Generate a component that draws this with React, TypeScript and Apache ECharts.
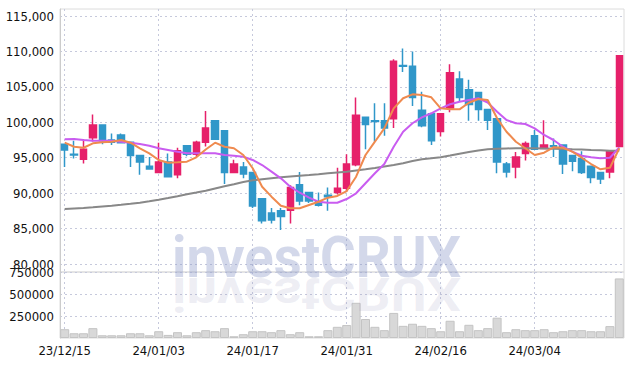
import React, { useEffect, useRef } from "react";
import * as echarts from "echarts";

const dates = [
  "23/12/15","23/12/18","23/12/19","23/12/20","23/12/21","23/12/22","23/12/26","23/12/27","23/12/28","24/01/02",
  "24/01/03","24/01/04","24/01/05","24/01/08","24/01/09","24/01/10","24/01/11","24/01/12","24/01/15","24/01/16",
  "24/01/17","24/01/18","24/01/19","24/01/22","24/01/23","24/01/24","24/01/25","24/01/26","24/01/29","24/01/30",
  "24/01/31","24/02/01","24/02/02","24/02/05","24/02/06","24/02/07","24/02/08","24/02/13","24/02/14","24/02/15",
  "24/02/16","24/02/19","24/02/20","24/02/21","24/02/22","24/02/23","24/02/26","24/02/27","24/02/28","24/02/29",
  "24/03/04","24/03/05","24/03/06","24/03/07","24/03/08","24/03/11","24/03/12","24/03/13","24/03/14","24/03/15",
];

// [open, close, low, high]
const ohlc = [
  [96900,96100,93700,96900],[95500,95400,94900,97400],[94800,96200,94200,97600],[97800,99600,97300,101100],
  [99600,97400,96900,99600],[97500,97200,96800,98400],[98200,97100,97100,98400],[97200,95300,93700,97200],
  [95300,94400,92600,95300],[93800,93400,93300,95100],[92900,94400,92800,97100],[94400,92300,92300,95600],
  [92600,96000,92100,96400],[96700,95500,95200,96700],[95500,97200,95100,97400],[97200,99200,96600,101600],
  [100200,97600,97600,100300],[98800,92900,91300,98800],[92900,94100,92900,94700],[93700,92700,92100,94400],
  [92900,88200,87900,92900],[89200,86100,85700,89300],[87200,86200,85700,87900],[87500,86700,84800,87900],
  [87600,90800,85700,91100],[91200,88900,88300,93000],[90100,88900,88600,90200],[88800,88300,88100,90100],
  [89700,89500,87500,90800],[90100,90700,89800,93600],[90700,94100,90200,95500],[94000,101000,93800,103500],
  [100700,99700,96200,100700],[100200,100100,97300,102700],[100200,99200,98100,102700],[100500,108600,99200,108900],
  [108000,107900,107100,110400],[107900,103500,102300,110000],[101700,99500,99300,104300],[101200,97400,96800,101200],
  [98700,101200,98000,101200],[102000,107000,101400,108200],[106100,103500,102900,107200],[104600,102500,100200,106000],
  [104200,101800,100200,104300],[101800,100300,98900,101800],[100500,94400,92800,100500],[94100,93000,92200,94400],
  [93700,95100,92100,95800],[95600,97000,94600,97300],[98100,96200,96200,98900],[96300,96800,96300,100300],
  [96700,96600,95100,97700],[96800,94100,92700,96800],[95300,94500,93100,95300],[94900,92900,92700,95900],
  [93800,92200,91400,93800],[92900,92000,91300,92900],[93000,96000,92100,96100],[96600,109400,96600,109400],
];

const ma5 = [
  97120,96550,96410,97030,97180,97260,97500,97120,96330,95620,
  94680,94300,94350,94440,95060,96160,97120,96550,96330,95380,
  93510,90910,89500,88230,87860,87860,88330,88790,89360,89600,
  90300,92320,95380,97260,99150,101970,103390,103950,103850,103530,
  101970,101830,101830,102760,103290,103150,100560,98670,97260,96330,
  95380,95710,96470,96410,95850,95000,94110,93360,93590,96330,
];

const ma10 = [
  97600,97640,97500,97400,97400,97400,97260,97120,96940,96700,
  96330,96090,95850,95620,95620,95620,95620,95380,95280,95140,
  94680,93970,93030,92090,90910,90060,89360,88790,88650,88650,
  89170,89980,91390,92800,94110,96550,98670,99860,100700,101270,
  101970,102540,102910,103150,103390,102790,101490,100320,99860,99760,
  99150,98210,97500,96550,95850,95280,95060,94920,94990,96470,
];

const maLong = [
  87760,87830,87900,88000,88115,88230,88355,88500,88650,88850,
  89075,89315,89570,89840,90090,90345,90655,90965,91260,91570,
  91810,91970,92110,92235,92350,92460,92560,92675,92800,92915,
  93025,93195,93365,93550,93760,93970,94210,94535,94775,94915,
  95060,95310,95565,95805,96020,96185,96270,96315,96330,96340,
  96330,96300,96270,96230,96185,96145,96090,96045,95990,95975,
];

const volume = [
  100000,54000,54000,112000,31000,31000,31000,54000,54000,31000,
  77000,35000,66000,31000,66000,89000,77000,112000,20000,43000,
  77000,77000,66000,89000,43000,66000,20000,20000,89000,127000,
  147000,400000,216000,127000,89000,285000,138000,162000,138000,112000,
  77000,196000,77000,150000,89000,112000,231000,66000,100000,89000,
  89000,100000,66000,77000,89000,89000,77000,77000,135000,677000,
];

const priceTicks = [80000, 85000, 90000, 95000, 100000, 105000, 110000, 115000];
const volumeTicks = [250000, 500000, 750000];

const FONT = "'Liberation Sans Narrow', 'DejaVu Sans Condensed', sans-serif";

export default function App() {
  const ref = useRef<HTMLDivElement>(null);
  useEffect(() => {
    if (!ref.current) return;
    const chart = echarts.init(ref.current, undefined, { renderer: "svg" });
    const dotted = { color: "#c6c9dc", type: [2, 3] as any, width: 1 };
    const label = { color: "#111", fontSize: 13, fontFamily: FONT };
    const option: any = {
      animation: false,
      grid: [
        { left: 60, right: 10, top: 9, height: 263, show: true, borderColor: "#dcdcdc", borderWidth: 1 },
        { left: 60, right: 10, top: 272, height: 66, show: true, borderColor: "#dcdcdc", borderWidth: 1 },
      ],
      xAxis: [
        {
          type: "category", gridIndex: 0, data: dates, boundaryGap: true,
          axisLine: { show: false }, axisTick: { show: false }, axisLabel: { show: false },
          splitLine: { show: true, interval: (i: number) => i % 10 === 0, alignWithLabel: true, lineStyle: dotted },
        },
        {
          type: "category", gridIndex: 1, data: dates, boundaryGap: true,
          axisLine: { show: false }, axisTick: { show: false },
          axisLabel: { interval: (i: number) => i % 10 === 0, margin: 6, ...label },
          splitLine: { show: true, interval: (i: number) => i % 10 === 0, alignWithLabel: true, lineStyle: dotted },
        },
      ],
      yAxis: [
        {
          type: "value", gridIndex: 0, min: 78871, max: 115988,
          axisLine: { show: true, lineStyle: { color: "#cccccc" } },
          axisTick: { show: false, customValues: priceTicks },
          axisLabel: {
            customValues: priceTicks, margin: 6, ...label,
            formatter: (v: number) => v.toLocaleString("en-US"),
          },
          splitLine: { show: true, lineStyle: dotted },
        },
        {
          type: "value", gridIndex: 1, min: 0, max: 750000,
          axisLine: { show: true, lineStyle: { color: "#cccccc" } },
          axisTick: { show: false, customValues: volumeTicks },
          axisLabel: { customValues: volumeTicks, margin: 6, ...label, formatter: (v: number) => String(v) },
          splitLine: { show: true, lineStyle: dotted },
        },
      ],
      series: [
        {
          type: "candlestick", xAxisIndex: 0, yAxisIndex: 0, data: ohlc, barWidth: 7,
          itemStyle: { color: "#e6206a", color0: "#3097c9", borderColor: "#e6206a", borderColor0: "#3097c9", borderWidth: 1.5 },
        },
        { type: "line", xAxisIndex: 0, yAxisIndex: 0, data: maLong, symbol: "none", lineStyle: { color: "#888888", width: 2 } },
        { type: "line", xAxisIndex: 0, yAxisIndex: 0, data: ma10, symbol: "none", lineStyle: { color: "#c95cf0", width: 2 } },
        { type: "line", xAxisIndex: 0, yAxisIndex: 0, data: ma5, symbol: "none", lineStyle: { color: "#ef8a4f", width: 2 } },
        {
          type: "bar", xAxisIndex: 1, yAxisIndex: 1, data: volume, barCategoryGap: "4%",
          itemStyle: { color: "#d8d8d8", borderColor: "#c4c4c4", borderWidth: 1 },
        },
      ],
      graphic: [
        {
          type: "text", x: 172, y: 257, z: 100, scaleX: 0.94,
          style: { text: "investCRUX", font: "bold 58px Roboto, sans-serif", fill: "rgba(140,152,200,0.38)", verticalAlign: "middle" },
        },
        {
          type: "text", x: 172, y: 294, z: 100, scaleX: 0.94, scaleY: -0.8,
          style: { text: "investCRUX", font: "bold 58px Roboto, sans-serif", fill: "rgba(150,150,190,0.16)", verticalAlign: "middle" },
        },
      ],
    };
    chart.setOption(option);
    return () => chart.dispose();
  }, []);
  return <div ref={ref} style={{ position: "absolute", left: 0, top: 0, width: 634, height: 366 }} />;
}
